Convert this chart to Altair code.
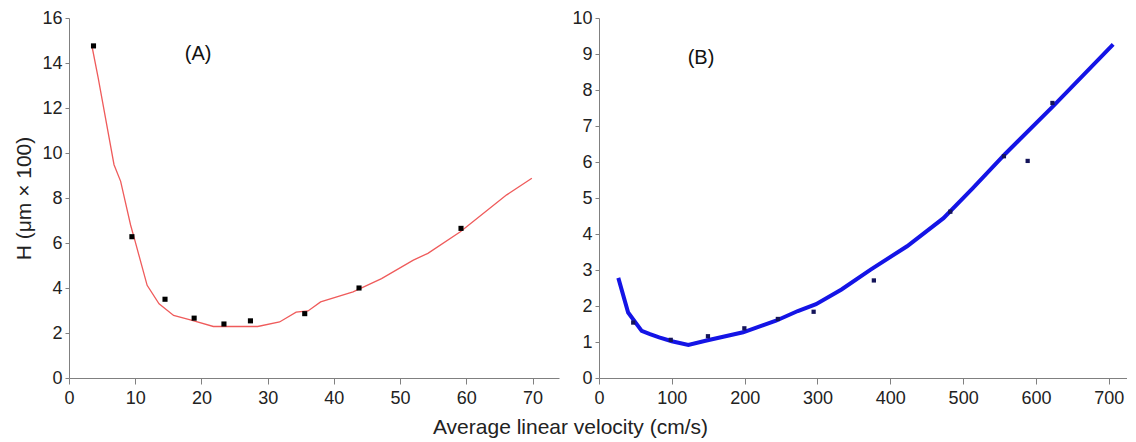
import altair as alt
import pandas as pd

FONT = "Liberation Sans"

# ---- Panel A data (x in cm/s, H in µm x 100)
a_pts_x = [3.7, 9.5, 14.5, 18.9, 23.4, 27.4, 35.6, 43.8, 59.2]
a_pts_y = [14.76, 6.28, 3.5, 2.66, 2.4, 2.54, 2.86, 4.0, 6.65]
a_fit_x = [3.5, 4.4, 6.8, 7.8, 9.3, 10.0, 11.8, 13.6, 15.8, 18.6, 21.8, 28.5,
           31.8, 34.3, 36.1, 38.0, 42.9, 47.2, 52.0, 54.2, 59.1, 66.1, 69.9]
a_fit_y = [14.7, 13.35, 9.48, 8.74, 6.8, 6.06, 4.12, 3.3, 2.78, 2.56, 2.29, 2.29,
           2.49, 2.93, 2.98, 3.38, 3.83, 4.42, 5.24, 5.54, 6.5, 8.14, 8.88]
a_x_ticks = [0, 10, 20, 30, 40, 50, 60, 70]
a_y_ticks = [0, 2, 4, 6, 8, 10, 12, 14, 16]
a_label = ["(A)"]
a_label_x = [19.5]
a_label_y = [14.4]

# ---- Panel B data
b_pts_x = [47, 98.5, 149.6, 199.6, 245.6, 294.7, 377.4, 482.4, 556, 588.6, 622.6]
b_pts_y = [1.54, 1.06, 1.16, 1.38, 1.64, 1.84, 2.71, 4.62, 6.16, 6.03, 7.64]
b_fit_x = [26.5, 40, 58.6, 70, 82.6, 100, 122.7, 147.7, 197.9, 243, 273, 298, 333,
           373, 423, 473, 513, 558, 624, 706]
b_fit_y = [2.78, 1.82, 1.31, 1.22, 1.13, 1.02, 0.92, 1.04, 1.27, 1.59, 1.86, 2.05,
           2.46, 3.01, 3.66, 4.44, 5.27, 6.23, 7.56, 9.27]
b_x_ticks = [0, 100, 200, 300, 400, 500, 600, 700]
b_y_ticks = [0, 1, 2, 3, 4, 5, 6, 7, 8, 9, 10]
b_label = ["(B)"]
b_label_x = [140]
b_label_y = [8.9]

x_title = "Average linear velocity (cm/s)"
y_title = "H (μm × 100)"

AXIS_GRAY = "#808080"
LABEL_COL = "#222222"
TICK_FS = 18
TITLE_FS = 21


def x_axis(vals):
    return alt.Axis(values=vals, title=None, grid=False, labelFlush=False,
                    domainColor=AXIS_GRAY, tickColor=AXIS_GRAY, tickSize=6,
                    labelPadding=5, labelFont=FONT, labelFontSize=TICK_FS,
                    labelColor=LABEL_COL, labelOverlap=False)


def y_axis(vals, title=None):
    kw = dict(values=vals, grid=False, domainColor=AXIS_GRAY, tickColor=AXIS_GRAY,
              tickSize=4, labelPadding=3, labelFont=FONT, labelFontSize=TICK_FS,
              labelColor=LABEL_COL, labelOverlap=False, tickCount=len(vals))
    if title:
        kw.update(title=title, titleFont=FONT, titleFontSize=TITLE_FS,
                  titleFontWeight="normal", titleColor=LABEL_COL, titlePadding=7)
    else:
        kw.update(title=None)
    return alt.Axis(**kw)


def panel(pts_x, pts_y, fit_x, fit_y, lab, lab_x, lab_y, xdom, ydom, xt, yt,
          ytitle, line_color, line_w, pt_color, pt_size, width, height):
    pts = pd.DataFrame({"x": pts_x, "y": pts_y})
    fit = pd.DataFrame({"x": fit_x, "y": fit_y})
    lbl = pd.DataFrame({"x": lab_x, "y": lab_y, "t": lab})
    xs = alt.Scale(domain=xdom, nice=False, zero=False)
    ys = alt.Scale(domain=ydom, nice=False)
    xenc = alt.X("x:Q", scale=xs, axis=x_axis(xt))
    yenc = alt.Y("y:Q", scale=ys, axis=y_axis(yt, ytitle))
    line = alt.Chart(fit).mark_line(color=line_color, strokeWidth=line_w).encode(
        x=xenc, y=yenc)
    points = alt.Chart(pts).mark_square(color=pt_color, size=pt_size, opacity=1).encode(
        x=xenc, y=yenc)
    text = alt.Chart(lbl).mark_text(font=FONT, fontSize=20, color="#111111").encode(
        x=xenc, y=yenc, text="t:N")
    return alt.layer(line, points, text).properties(width=width, height=height)


pa = panel(a_pts_x, a_pts_y, a_fit_x, a_fit_y, a_label, a_label_x, a_label_y,
           [0, 74], [0, 16], a_x_ticks, a_y_ticks, y_title,
           "#ef5b5b", 1.3, "#000000", 26, 490, 360)
pb = panel(b_pts_x, b_pts_y, b_fit_x, b_fit_y, b_label, b_label_x, b_label_y,
           [0, 725], [0, 10], b_x_ticks, b_y_ticks, None,
           "#1414e6", 4, "#14145a", 18, 528, 360)

chart = alt.hconcat(pa, pb, spacing=12).properties(
    padding={"left": 5, "top": 1, "right": 0, "bottom": 0},
    title=alt.TitleParams(text=x_title, orient="bottom", anchor="middle",
                          font=FONT, fontSize=TITLE_FS, fontWeight="normal",
                          color=LABEL_COL, offset=10),
).configure_view(strokeWidth=0)

chart.save("out.html", embed_options={"renderer": "svg", "actions": False})
